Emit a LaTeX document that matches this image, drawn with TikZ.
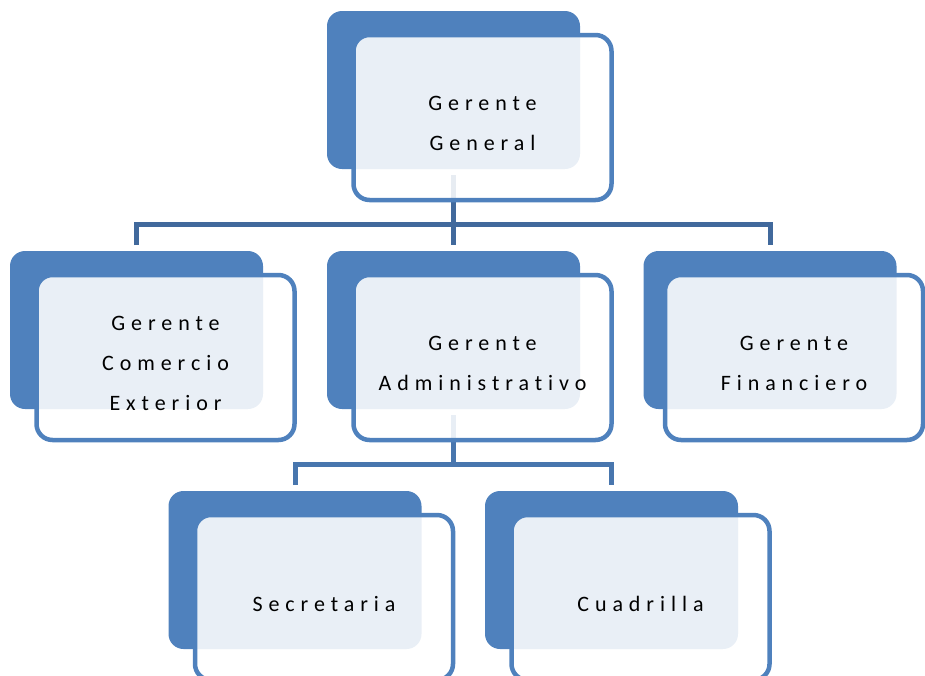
\documentclass[tikz,border=0pt]{standalone}
\usepackage{fontspec}
\setmainfont{Carlito}
\newfontfamily\spacedfont[LetterSpace=27,Ligatures=NoCommon]{Carlito}
\usetikzlibrary{calc,backgrounds}
\definecolor{accent}{HTML}{4F81BD}
\definecolor{connA}{HTML}{41699C}
\definecolor{connB}{HTML}{4876AE}
\begin{document}
\begin{tikzpicture}[x=1pt,y=-1pt,
  backbox/.style={fill=accent, rounded corners=15pt, minimum width=253pt, minimum height=158pt, inner sep=0pt, outer sep=0pt},
  frontbox/.style={draw=accent, line width=4.5pt, fill=white, fill opacity=0.88, rounded corners=16pt, minimum width=258pt, minimum height=165pt, inner sep=0pt, outer sep=0pt},
  boxtext/.style={font=\spacedfont\fontsize{22}{40}\selectfont, align=center, text=black, inner sep=0pt},
  conn/.style={line width=5pt, line join=miter}]
\useasboundingbox (0,0) rectangle (925,675);

% back boxes
\node[backbox] (gb) at (453.5,90) {};
\node[backbox] (cb) at (136.5,330) {};
\node[backbox] (ab) at (453.5,330) {};
\node[backbox] (fb) at (770,330) {};
\node[backbox] (sb) at (295,570) {};
\node[backbox] (qb) at (611.5,570) {};

% front boxes
\node[frontbox] (gf) at ($(gb)+(29,27.5)$) {};
\node[frontbox] (cf) at ($(cb)+(29,27.5)$) {};
\node[frontbox] (af) at ($(ab)+(29,27.5)$) {};
\node[frontbox] (ff) at ($(fb)+(24,27.5)$) {};
\node[frontbox] (sf) at ($(sb)+(29,27.5)$) {};
\node[frontbox] (qf) at ($(qb)+(29,27.5)$) {};

% texts
\node[boxtext] (gt) at ($(gf)+(0,6)$) {Gerente\\General};
\node[boxtext] (ct) at ($(cf)+(0,6)$) {Gerente\\Comercio\\Exterior};
\node[boxtext] (at) at ($(af)+(0,6)$) {Gerente\\Administrativo};
\node[boxtext] (ft) at ($(ff)+(0,6)$) {Gerente\\Financiero};
\node[boxtext] (st) at ($(sf)+(0,6)$) {Secretaria};
\node[boxtext] (qt) at ($(qf)+(0,6)$) {Cuadrilla};

% connectors
\coordinate (j1) at ($(gb.south)+(0,55)$);
\coordinate (j2) at ($(ab.south)+(0,55.5)$);
\begin{scope}[on background layer]
\draw[conn,connA] ($(gb.south)+(0,6)$) -- (j1);
\draw[conn,connA] ($(cb.north)+(0,-6)$) |- (j1) -| ($(fb.north)+(0,-6)$);
\draw[conn,connA] (j1) -- ($(ab.north)+(0,-6)$);
\draw[conn,connB] ($(ab.south)+(0,6)$) -- (j2);
\draw[conn,connB] ($(sb.north)+(0,-6)$) |- (j2) -| ($(qb.north)+(0,-6)$);
\end{scope}
\end{tikzpicture}
\end{document}
